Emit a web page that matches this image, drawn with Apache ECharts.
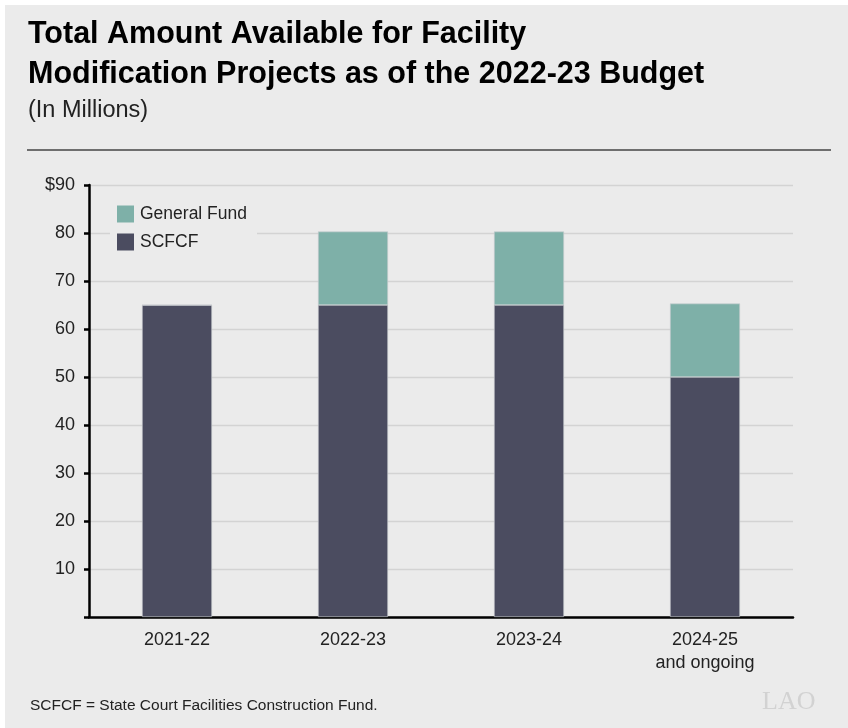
<!DOCTYPE html>
<html><head><meta charset="utf-8">
<script src="https://cdn.jsdelivr.net/npm/echarts@6/dist/echarts.min.js"></script>
<style>html,body{margin:0;padding:0;background:#fff}#c{width:848px;height:728px}</style>
</head><body><div id="c"></div>
<script>
const categories = ['2021-22', '2022-23', '2023-24', '2024-25\nand ongoing'];
const scfcf = [65, 65, 65, 50];
const generalFund = [0, 15.3, 15.3, 15.3];
const yTicks = [10, 20, 30, 40, 50, 60, 70, 80, 90];

const chart = echarts.init(document.getElementById('c'));
const font = 'Liberation Sans, Arial, Helvetica, sans-serif';
chart.setOption({
  backgroundColor: '#fff',
  animation: false,
  graphic: [
    { type: 'rect', left: 5, top: 5, shape: { width: 843, height: 723 }, style: { fill: '#ebebeb' }, z: -10 },
    { type: 'text', left: 28, top: 19, style: { text: 'Total Amount Available for Facility', font: 'bold 30.5px ' + font, fill: '#000' } },
    { type: 'text', left: 28, top: 59, style: { text: 'Modification Projects as of the 2022-23 Budget', font: 'bold 30.5px ' + font, fill: '#000' } },
    { type: 'text', left: 28, top: 99, style: { text: '(In Millions)', font: '23.5px ' + font, fill: '#222' } },
    { type: 'line', shape: { x1: 27, y1: 150, x2: 831, y2: 150 }, style: { stroke: '#444', lineWidth: 1.3 } },
    { type: 'text', left: 30, top: 698, style: { text: 'SCFCF = State Court Facilities Construction Fund.', font: '15.5px ' + font, fill: '#222' } },
    { type: 'text', left: 762, top: 689, style: { text: 'LAO', font: '26px Liberation Serif, DejaVu Serif, serif', fill: '#d2d2d2' } }
  ],
  legend: {
    data: ['General Fund', 'SCFCF'],
    orient: 'vertical',
    left: 110, top: 199,
    itemWidth: 17, itemHeight: 17, itemGap: 10,
    icon: 'rect',
    itemStyle: { borderWidth: 0 },
    padding: [6, 10, 6, 7],
    backgroundColor: '#ebebeb',
    textStyle: { fontSize: 17.5, color: '#222', fontFamily: font, padding: [2, 0, 0, 1] }
  },
  grid: { left: 89, right: 55, top: 185, bottom: 111 },
  xAxis: {
    type: 'category',
    data: categories,
    axisLine: { lineStyle: { color: '#000', width: 2.5 } },
    axisTick: { show: false },
    axisLabel: { fontSize: 18, color: '#222', fontFamily: font, margin: 12, lineHeight: 23 }
  },
  yAxis: {
    type: 'value', min: 0, max: 90, interval: 10,
    axisLine: { show: true, lineStyle: { color: '#000', width: 2.5 } },
    axisTick: { show: true, length: 5, lineStyle: { color: '#000', width: 2.5 } },
    splitLine: { lineStyle: { color: '#d3d3d3', width: 1.3 } },
    axisLabel: {
      fontSize: 18, color: '#222', fontFamily: font, margin: 14,
      formatter: v => v === 0 ? '' : (v === 90 ? '$' + v : String(v))
    }
  },
  series: [
    { name: 'SCFCF', type: 'bar', stack: 't', data: scfcf, barWidth: 70,
      itemStyle: { color: '#4b4c60', borderColor: '#c9cdd0', borderWidth: 0.6 } },
    { name: 'General Fund', type: 'bar', stack: 't', data: generalFund, barWidth: 70,
      itemStyle: { color: '#7eb0a8', borderColor: '#c9cdd0', borderWidth: 0.6 } }
  ]
});
</script></body></html>
